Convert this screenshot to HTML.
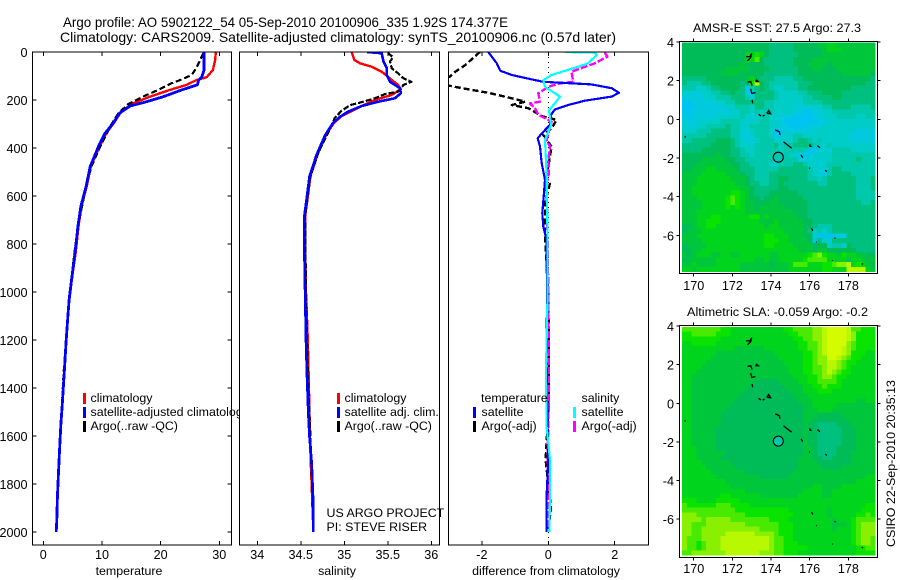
<!DOCTYPE html>
<html lang="en">
<head>
<meta charset="utf-8">
<title>Argo profile 5902122_54</title>
<style>
html,body{margin:0;padding:0;background:#fff;}
svg{display:block;}
text{font-family:"Liberation Sans",sans-serif;font-size:12.4px;fill:#000;}
.ttl{font-size:14px;}
</style>
</head>
<body>
<svg id="chart" xmlns="http://www.w3.org/2000/svg" width="900" height="580" viewBox="0 0 900 580">
  <rect x="0" y="0" width="900" height="580" fill="#fff"/>
  <text class="ttl" x="63" y="27" textLength="445" lengthAdjust="spacingAndGlyphs">Argo profile: AO 5902122_54 05-Sep-2010 20100906_335 1.92S 174.377E</text>
  <text class="ttl" x="60" y="42" textLength="556" lengthAdjust="spacingAndGlyphs">Climatology: CARS2009. Satellite-adjusted climatology: synTS_20100906.nc (0.57d later)</text>

  <g id="panelT"></g>
  <g>
    <rect x="83" y="393" width="3" height="11" fill="#f00"/>
    <rect x="83" y="407" width="3" height="11" fill="#00f"/>
    <rect x="83" y="421" width="3" height="11" fill="#000"/>
    <text x="90.5" y="402">climatology</text>
    <text x="90.5" y="416">satellite-adjusted climatology</text>
    <text x="90.5" y="430">Argo(..raw -QC)</text>
  </g>
  <text x="129" y="575" text-anchor="middle">temperature</text>

  <g id="panelS"></g>
  <g>
    <rect x="337" y="393" width="3" height="11" fill="#f00"/>
    <rect x="337" y="407" width="3" height="11" fill="#00f"/>
    <rect x="337" y="421" width="3" height="11" fill="#000"/>
    <text x="344.5" y="402">climatology</text>
    <text x="344.5" y="416">satellite adj. clim.</text>
    <text x="344.5" y="430">Argo(..raw -QC)</text>
  </g>
  <text x="326.5" y="517">US ARGO PROJECT</text>
  <text x="326.5" y="531">PI: STEVE RISER</text>
  <text x="337" y="575" text-anchor="middle">salinity</text>

  <g id="panelD"></g>
  <g>
    <text x="481" y="402">temperature</text>
    <text x="581.5" y="402">salinity</text>
    <rect x="473" y="407" width="3" height="11" fill="#00f"/>
    <rect x="473" y="421" width="3" height="11" fill="#000"/>
    <rect x="573" y="407" width="3" height="11" fill="#0ff"/>
    <rect x="573" y="421" width="3" height="11" fill="#f0f"/>
    <text x="481.5" y="416">satellite</text>
    <text x="481.5" y="430">Argo(-adj)</text>
    <text x="581.5" y="416">satellite</text>
    <text x="581.5" y="430">Argo(-adj)</text>
  </g>
  <text x="546" y="575" text-anchor="middle">difference from climatology</text>

  <text x="693" y="32" textLength="168" lengthAdjust="spacingAndGlyphs">AMSR-E SST: 27.5 Argo: 27.3</text>
  <g id="mapSST"></g>
  <text x="687" y="316" textLength="181" lengthAdjust="spacingAndGlyphs">Altimetric SLA: -0.059 Argo: -0.2</text>
  <g id="mapSLA"></g>
  <text transform="translate(895,547) rotate(-90)" textLength="167" lengthAdjust="spacingAndGlyphs">CSIRO 22-Sep-2010 20:35:13</text>
</svg>

<script>
// ---------- profile data ----------
const tempTicks = [0, 10, 20, 30];
const salTicks = [34, 34.5, 35, 35.5, 36];
const salTickLabels = ['34', '34.5', '35', '35.5', '36'];
const diffTicks = [-2, 0, 2];
const depthTicks = [0, 200, 400, 600, 800, 1000, 1200, 1400, 1600, 1800, 2000];

const tClimDepth = [0, 33, 75, 105, 117, 137, 158, 186, 214, 242, 255, 297, 339, 394, 477, 560, 644, 727, 838, 950, 1033, 1100, 1200, 1325, 1421, 1550, 1743, 1951, 2000];
const tClimValue = [29.4, 29.3, 28.9, 27.85, 26.1, 24.4, 21.6, 18.2, 15.3, 13.6, 13.1, 12.0, 10.7, 9.6, 8.1, 7.4, 6.5, 6.0, 5.5, 4.85, 4.45, 4.2, 3.9, 3.6, 3.35, 3.0, 2.6, 2.3, 2.2];

const tSatDepth = [0, 75, 105, 117, 137, 158, 186, 207, 225, 255, 297, 339, 394, 477, 560, 644, 727, 838, 950, 1033, 1100, 1200, 1325, 1421, 1479, 1550, 1646, 1743, 1854, 1951, 2000];
const tSatValue = [27.4, 27.4, 27.0, 26.5, 26.25, 23.6, 20.5, 17.6, 14.8, 13.0, 11.9, 10.5, 9.4, 8.0, 7.3, 6.4, 5.9, 5.4, 4.8, 4.4, 4.2, 3.9, 3.6, 3.35, 3.2, 3.0, 2.8, 2.6, 2.4, 2.3, 2.2];

const tArgoDepth = [5, 19, 40, 66, 96, 117, 130, 158, 186, 217, 255, 310, 394, 477, 560, 727, 838, 1033, 1325, 1550, 1743, 1990];
const tArgoValue = [27.3, 27.0, 26.6, 26.1, 25.3, 23.3, 21.9, 19.6, 17.0, 14.5, 12.8, 11.4, 9.7, 8.2, 7.3, 5.9, 5.3, 4.4, 3.5, 3.0, 2.55, 2.2];

const sClimDepth = [0, 33, 47, 61, 82, 103, 138, 155, 179, 200, 225, 267, 296, 346, 429, 519, 603, 686, 811, 1000, 1200, 1338, 1504, 1603, 1713, 1853, 2000];
const sClimValue = [35.085, 35.115, 35.18, 35.31, 35.43, 35.5, 35.62, 35.65, 35.545, 35.35, 35.2, 34.97, 34.88, 34.79, 34.69, 34.61, 34.58, 34.55, 34.55, 34.56, 34.58, 34.59, 34.6, 34.605, 34.615, 34.63, 34.645];

const sSatDepth = [0, 5, 40, 68, 96, 124, 151, 172, 193, 207, 225, 249, 270, 296, 346, 429, 519, 603, 686, 811, 1000, 1200, 1338, 1504, 1603, 1713, 1853, 2000];
const sSatValue = [35.26, 35.43, 35.45, 35.49, 35.49, 35.525, 35.64, 35.65, 35.58, 35.39, 35.2, 35.04, 34.95, 34.87, 34.78, 34.68, 34.6, 34.57, 34.54, 34.54, 34.55, 34.56, 34.57, 34.586, 34.6, 34.625, 34.64, 34.645];

const sArgoDepth = [3, 22, 40, 68, 89, 110, 124, 137, 165, 175, 193, 211, 221, 244, 276, 332, 421, 519, 686, 1000, 1338, 1603, 1853, 1990];
const sArgoValue = [35.5, 35.56, 35.525, 35.545, 35.62, 35.68, 35.77, 35.68, 35.62, 35.47, 35.35, 35.18, 35.07, 34.97, 34.89, 34.82, 34.7, 34.61, 34.55, 34.56, 34.58, 34.61, 34.635, 34.645];

const dTempSatDepth = [0, 47, 78, 96, 117, 124, 135, 151, 170, 186, 203, 221, 239, 262, 304, 339, 360, 394, 463, 533, 603, 671, 728, 783, 1000, 1300, 1500, 1700, 1850, 2000];
const dTempSatValue = [-1.81, -1.55, -1.45, -1.1, -0.4, -0.15, 1.3, 1.91, 2.13, 1.91, 1.1, 0.6, 0.2, 0.08, 0.05, -0.2, -0.32, -0.25, -0.2, -0.1, -0.14, -0.18, -0.15, -0.05, -0.04, -0.05, -0.03, 0.0, -0.05, -0.05];

const dTempArgoDepth = [0, 54, 82, 103, 115, 122, 140, 151, 170, 193, 207, 221, 234, 267, 283, 318, 346, 394, 478, 519, 547, 630, 770, 1000, 1300, 1500, 1700, 1900, 1990];
const dTempArgoValue = [-2.06, -2.5, -2.8, -2.97, -3.2, -3.2, -3.0, -2.6, -1.8, -1.1, -0.7, -1.1, -0.6, -0.2, 0.25, 0.1, -0.15, 0.1, 0.0, -0.1, 0.05, -0.1, -0.1, 0.0, 0.02, 0.0, -0.08, 0.08, 0.0];

const dSalSatDepth = [0, 3, 12, 47, 68, 96, 117, 145, 186, 214, 242, 304, 367, 505, 783, 1000, 1325, 1560, 1700, 1850, 2000];
const dSalSatValue = [0.5, 1.4, 1.46, 1.2, 0.75, 0.1, -0.15, -0.1, 0.35, 0.2, 0.02, 0.08, -0.1, -0.05, -0.02, -0.02, -0.07, -0.05, 0.05, 0.05, 0.03];

const dSalArgoDepth = [2, 19, 47, 82, 124, 131, 145, 172, 207, 214, 234, 262, 290, 367, 394, 450, 505, 547, 783, 1000, 1400, 1700, 1990];
const dSalArgoValue = [1.7, 1.78, 1.4, 0.7, 0.75, 0.35, 0.0, -0.3, -0.25, -0.55, -0.4, -0.3, 0.1, -0.05, 0.05, 0.0, 0.02, -0.05, -0.02, 0.0, 0.02, -0.02, 0.0];

// ---------- map data ----------
const mapLonTicks = [170, 172, 174, 176, 178];
const mapLatTicks = [4, 2, 0, -2, -4, -6];
const colorScale = {a:'#00c4f0',b:'#00cadc',c:'#00ccc8',d:'#00c8aa',e:'#00c080',f:'#00bc58',g:'#00c63c',h:'#00d41c',i:'#08e400',j:'#48ea00',k:'#88f000',l:'#b8f800',m:'#d4fb00'};

const sstRows = [
"ffffffffff ffffffffee eeefffffgg hhgggggggg",
"ffffffffff ffffffffee eeeffffffg hhhggggggg",
"ffffffffff fffhhihfee eeeefffffg gggggggggg",
"ffffffffff fffhhjfeee eeeffffggg gggggggggg",
"ffffffffff ffgffffeee eeefffgggg fggggggggg",
"fffffffffg ggggffffee eeeefffggf ffgggggggg",
"ffffffffgg ggfffffeee eeeeffffff fffggggggf",
"eeeeefffff fffghfeeed dddeefffff fffffffffe",
"edddeeffff ffefilfedd ddddeeefff ffffffffee",
"dddccdeeff ffeadefedc cdddeeffff fffffeeeee",
"ccbbccddee feeabeeeed ccccddeeef fffeeeeeee",
"bbbbbccddd eeedceeeed cccccddeee effeeeeeee",
"aabbbbbccd deeeeeeddc cccccdddde eeeeeeeeee",
"aaabbbbbbc cdddceeddc ccccbbcccd deeeedddde",
"aabbbbbbbb ccddcdcddc cccbbaabbc cddddddddd",
"babbbbbccc ccdcbcddcc bbbaaaabbc ccddddccdd",
"bbbcccccdd ddcbccddcc baaaaaaabb cccccccccc",
"cbbccdddde ddccddddcc bbaaaabbbc cccccccccc",
"cccdddeeee ddcbcdddca abbbbbbccc ccccccbbbb",
"dddddeeeee ddbbcdddca bccddccccc ccccbbbbbb",
"ddeeeeefff edcbbcdddc cccdeedcdc cccccbbbbb",
"eeeeeeffff edcccdddde cddeeeedcc dccccccccc",
"eeeeffffff eedccddddd cdddddaabc bddddccccc",
"fffffffgff eeddcddddd ddcbbaaccc cddddddddd",
"ffffgggggf feeddddddc ddddbbccbc cdddddeddd",
"fffggggggg ffeeddddcc dddeedccbc dddddddddd",
"ffggghhggg gfeeeddddd eeeeeedccb deeddddddd",
"gggghhhhhg ggfeedddee eeeeeedcbb deeeeddddd",
"ggghhhhhhh gggfedddee ffeeeeddcd eeeeeeddde",
"ggghhhhhhh hggfeeddee feeeeeeedd eeeeeeddde",
"gghhhhhhhh hhggfeeeee ffeeeeeeee eeeeeeddde",
"gghhhhhhhh iihgfeeeff ffffeeeeee eeeeeedddd",
"ggghhhhhhi jihgffeffg fffffeeeee eeeeeedddd",
"gggghhhhhi jihggfffgg ffffffeeee eeeeeeedde",
"gggghhhhhi hihggfgggg gfffffeeee eeeeeeeeee",
"ggghhhhhhh hhhggggggg gggfffeeee eeeeeeeeee",
"ggghhhiihh hhhhiighgg ggggffeeee eeeeeeeeee",
"ggghhiiihh hhhhhhgggh gggggffeee eeeeeeeeee",
"ffghhiihhh hhhhhhhghh gggggffedd deeeeeeeee",
"fggghhhhhh hhhhhhhhhh hggggfecdc deeeeeeeee",
"ggghhhhhhh hhhhhhhiih hhgggffcaa aabbeeeeee",
"gggghhhhhh hhhhhhhiii hhggggfaec beeeeeeeee",
"fgggghhhhh hhhhhhhiih hhhggggfff cddcfeeeee",
"ffgghhhhhh hhhhhhhhhh hhhhgggfgg ffffffeeee",
"gfghhhgghh gghhhhhhgg hhhhhhijki hhgihhggff",
"fgggggghhh hhhhhgghgg hhhhhijjjj hhhhfhhggg",
"gghgggghhh hhggggggfg gghjjjhhhi ijkklhihgf",
"hhghhhhhhh hhgggggggg gghhhhhhhi ihhhllllhg"
];

const slaRows = [
"jjjjjjjjii hhhhhhhhhh hiijjjjkkl mmmmljjiii",
"iijjjjjiii hhhhhhhhhh hhiijjjkkl mmmmlkiiii",
"iiiiiiiihh hhhhhhhhhh hhhiijjkkl mmmmlkiiii",
"hhiiiiihhh hhhhhhhhhh hhhhiijjkl mmmmkjiiii",
"hhhhhhhhhh hgggggghhh hhhhiijjkl mmmlkjiiii",
"hhhhhhhggg gggggggggh hhhhhiijkl mmmlkiiihh",
"hhhhhhgggg gggggggggg hhhhhiijkk mmlkjiihhh",
"hhhhhggggg gggggggggg ghhhhiijkk llkjiihhhh",
"hhhhgggggg gggggggggg gghhhiijjk llkjihhhhh",
"hhhggggggg gggggggggg gghhhiijjk lkjiihhhhh",
"hhgggggggg gggggggggg ggghhhiijk kjiihhhhhh",
"hhgggggggg gggggfffff gggghhiijj jjihhhhhhh",
"hhgggggggg ggggffffff fgggghhiij iiihhhhhhh",
"hhgggggggg gggfffffff ffggghhhii ihhhhhhhhh",
"hhgggggggg ggffffffff fffggghhhh hhhhhhhhhh",
"hhgggggggg gfffffffff ffffggghhh hhhhhhgghh",
"hhgggggggg ffffffffff fffffgghhh hhgggggggg",
"hhgggggggf ffffffffff fffffggghh hggggggggg",
"hhggggggff ffffffffff fffffgggff fffggggggg",
"hhggggggff ffffffffff fffffggfff ffffgggggg",
"hhggggggff ffffffffff fffffgffee eefffggggg",
"hhgggggfff ffffffffff fffffgffee eeefffgggg",
"hhgggggfff ffffffffff fffffgffee eeefffgggg",
"hhgggggfff ffffffffff fffffgffee eeefffgggg",
"hhgggggfff ffffffffff fffffgffee eeefffgggg",
"hhhggggfff ffffffffff fffffggfee eeffffgggg",
"hhhggggggf ffffffffff fffffggfee eefffggggg",
"hhhgggggff ffffffffff ffffgggffe effffggggg",
"hhhhgggggg ffffffffff ffffggggff fffffggggg",
"hhhhhggggg gfffffffff ffffgggggf fffggggggg",
"hhhhhhgggg gggfffffff fffggggggg gggggggggg",
"hhhhhhhggg ggggggffff ffgggggggg gggggggghh",
"hhhhhhhhhg gggggggggg gggggggggg gggggghhhh",
"hhhhhhhhhh gggggggggg ggggggghhg ggghhhhhhh",
"hhhhhhhhhh hhhggggggg ggggghhhhg ghhhhhhhhh",
"hhhhhhhhii hhhhhhgggg gggghhhhhg ghhhhhhhhh",
"iiihhhhiii iihhhhhhhh hhhhhhhhhh hhhhhhhhhh",
"jiiiiiijjj iiiihhhhhh hhhhhhhhhh hhhhhhhhii",
"jjjjjjjjjj jiiiiiiiii iihhhhhhhh ghhhhhhiii",
"kkkjjjjjjj jjjiiiiiii iiihhhhhhh ghhhhhiiji",
"kkkkjkkkkk jjjjjjjjii iihhhhhhhh hghhhijjjj",
"kkjjjkkkkk kkkjjjjjjj iiihhhhhhh hggghijkkk",
"kkjjkkkkkk kkkkkkjjjj iiihhhhhhh hghhhijkkk",
"kkjjkkkkkl lllllkkkkj iiihhhhhhh hhhhhijkkk",
"kjjjkkkkll llllllllkj jiihhhhhhh hhhhhijkkj",
"kjjijkkkll llllllllkj jiiihhhhhh hhhhhijkkj",
"kjjijkkkll llllllllkj jiiiiihhhh hhhhhhiijj",
"jjkkkkkkkl llllllkkkj jiiihhhhhh hhhhhhiiii"
];

const coastLon = [
  [172.71,172.91,173.0,172.95,172.78],
  [172.79,172.95,173.02],
  [172.95,173.0,173.19],
  [173.02,173.05],
  [173.19,173.26,173.34,173.19],
  [173.36,173.48],
  [173.57,173.67],
  [173.78,173.88,173.98,173.78],
  [174.21,174.43,174.47],
  [174.64,175.07],
  [175.55,175.64],
  [176.0,176.02,176.1],
  [176.4,176.53],
  [175.98,176.0],
  [176.81,176.88],
  [176.1,176.16],
  [177.28,177.34],
  [176.33,176.37],
  [177.17,177.2],
  [178.69,178.76],
  [169.52,169.6]
];
const coastLat = [
  [3.24,3.24,3.41,3.19,3.02],
  [1.91,1.95,1.74],
  [1.57,1.34,1.38],
  [1.0,0.83],
  [1.95,2.02,1.95,1.95],
  [0.26,0.17],
  [0.16,0.22],
  [0.31,0.45,0.29,0.31],
  [-0.55,-0.64,-0.81],
  [-1.16,-1.5],
  [-1.84,-1.98],
  [-1.29,-1.4,-1.4],
  [-1.36,-1.47],
  [-2.5,-2.55],
  [-2.62,-2.71],
  [-5.64,-5.76],
  [-6.12,-6.15],
  [-6.33,-6.35],
  [-7.28,-7.3],
  [-7.45,-7.5],
  [-0.91,-0.91]
];
const floatLon = 174.377;
const floatLat = -1.96;

// ---------- helpers ----------
const NS = 'http://www.w3.org/2000/svg';
function make(parent, tag, attrs) {
  const el = document.createElementNS(NS, tag);
  for (const k in attrs) el.setAttribute(k, attrs[k]);
  parent.appendChild(el);
  return el;
}
function tickLine(parent, x1, y1, x2, y2, name) {
  const el = make(parent, 'line', {x1: x1, y1: y1, x2: x2, y2: y2, stroke: '#000', 'stroke-width': 1, 'shape-rendering': 'crispEdges'});
  
  
  return el;
}
function label(parent, x, y, anchor, str, name) {
  const el = make(parent, 'text', {x: x, y: y, 'text-anchor': anchor, style: 'font-size:12.6px'});
  el.textContent = str;
  
  
  return el;
}
const yDepth = d => 52 + d * 0.24;
const boxTop = 52, boxBottom = 545;

function profilePanel(group, id, left, right, xScale, ticks, tickLabels, showDepth) {
  const bg = make(group, 'rect', {x: left, y: boxTop, width: right - left, height: boxBottom - boxTop, fill: '#fff'});
  
  
  const clip = make(group, 'clipPath', {id: 'clip-' + id});
  make(clip, 'rect', {x: left, y: boxTop, width: right - left, height: boxBottom - boxTop});
  const lines = make(group, 'g', {'clip-path': 'url(#clip-' + id + ')'});
  
  
  const axes = make(group, 'g', {});
  
  
  const box = make(axes, 'rect', {x: left, y: boxTop, width: right - left, height: boxBottom - boxTop, fill: 'none', stroke: '#000', 'stroke-width': 1, 'shape-rendering': 'crispEdges'});
  
  
  ticks.forEach((t, i) => {
    const x = xScale(t);
    tickLine(axes, x, boxTop, x, boxTop + 4, id + '-top-tick');
    tickLine(axes, x, boxBottom, x, boxBottom - 4, id + '-bottom-tick');
    label(axes, x, 559, 'middle', tickLabels[i], id + '-x-tick-label');
  });
  if (showDepth) {
    depthTicks.forEach(d => {
      tickLine(axes, left, yDepth(d), left + 4, yDepth(d), 'depth-left-tick');
      tickLine(axes, right, yDepth(d), right - 4, yDepth(d), 'depth-right-tick');
      label(axes, 27.5, yDepth(d) + 5, 'end', String(d), 'depth-tick-label');
    });
  }
  return lines;
}
function profile(parent, depths, values, xScale, color, width, name, dash) {
  const pts = depths.map((d, i) => xScale(values[i]).toFixed(1) + ',' + yDepth(d).toFixed(1)).join(' ');
  const el = make(parent, 'polyline', {points: pts, fill: 'none', stroke: color, 'stroke-width': width, 'stroke-linejoin': 'round', 'shape-rendering': 'crispEdges'});
  if (dash) el.setAttribute('stroke-dasharray', dash);
  
  
  return el;
}

// ---------- profile panels ----------
const xTemp = v => 43.3 + v * 5.867;
const xSal = v => 344.3 + (v - 35) * 87;
const xDiff = v => 548.3 + v * 33.2;

const tLines = profilePanel(document.getElementById('panelT'), 'temperature', 32.5, 231.5, xTemp, tempTicks, tempTicks.map(String), true);
profile(tLines, tClimDepth, tClimValue, xTemp, '#f00', 2.4, 'temperature-climatology-line');
profile(tLines, tArgoDepth, tArgoValue, xTemp, '#000', 2.2, 'temperature-argo-line', '6 3');
profile(tLines, tSatDepth, tSatValue, xTemp, '#00f', 2.8, 'temperature-satellite-line');

const sLines = profilePanel(document.getElementById('panelS'), 'salinity', 239.5, 439.5, xSal, salTicks, salTickLabels, false);
profile(sLines, sClimDepth, sClimValue, xSal, '#f00', 2.4, 'salinity-climatology-line');
profile(sLines, sArgoDepth, sArgoValue, xSal, '#000', 2.2, 'salinity-argo-line', '6 2');
profile(sLines, sSatDepth, sSatValue, xSal, '#00f', 2.6, 'salinity-satellite-line');

const dLines = profilePanel(document.getElementById('panelD'), 'difference', 448.5, 648.5, xDiff, diffTicks, diffTicks.map(String), false);
const zero = make(dLines, 'line', {x1: xDiff(0), y1: boxTop, x2: xDiff(0), y2: boxBottom, stroke: '#000', 'stroke-width': 1, 'stroke-dasharray': '1 4', 'shape-rendering': 'crispEdges'});


profile(dLines, dTempArgoDepth, dTempArgoValue, xDiff, '#000', 2.4, 'temp-argo-difference-line', '6 3');
profile(dLines, dSalArgoDepth, dSalArgoValue, xDiff, '#f0f', 2.4, 'salinity-argo-difference-line', '7 2');
profile(dLines, dTempSatDepth, dTempSatValue, xDiff, '#00f', 2.2, 'temp-satellite-difference-line');
profile(dLines, dSalSatDepth, dSalSatValue, xDiff, '#0ff', 2.2, 'salinity-satellite-difference-line');

// ---------- maps ----------
const xLon = lon => 693.7 + (lon - 170) * 19.33;
const cellLonStart = 169.395, cellLonStep = 0.25, cellLatStart = 3.96, cellLatStep = 0.2465;

function drawMap(group, id, rows, yLat, frameTop, frameBottom, floatColor, xLabelY) {
  const left = 679.5, right = 877.5;
  const frame = make(group, 'rect', {x: left, y: frameTop, width: right - left, height: frameBottom - frameTop, fill: '#fff', stroke: '#000', 'stroke-width': 1, 'shape-rendering': 'crispEdges'});
  
  
  const cells = make(group, 'g', {'shape-rendering': 'crispEdges'});
  
  
  rows.forEach((row, r) => {
    const vals = row.replace(/ /g, '');
    for (let c = 0; c < vals.length; c++) {
      const x0 = xLon(cellLonStart + c * cellLonStep);
      const x1 = xLon(cellLonStart + (c + 1) * cellLonStep);
      const y0 = yLat(cellLatStart - r * cellLatStep);
      const y1 = yLat(cellLatStart - (r + 1) * cellLatStep);
      const cell = make(cells, 'rect', {x: x0.toFixed(2), y: y0.toFixed(2), width: (x1 - x0 + 0.3).toFixed(2), height: (y1 - y0 + 0.3).toFixed(2), fill: colorScale[vals[c]]});
      
      
    }
  });
  const coast = make(group, 'g', {});
  
  
  coastLon.forEach((lons, i) => {
    const pts = lons.map((lon, j) => xLon(lon).toFixed(1) + ',' + yLat(coastLat[i][j]).toFixed(1)).join(' ');
    const isle = make(coast, 'polyline', {points: pts, fill: 'none', stroke: '#000', 'stroke-width': 1.3});
    
    
  });
  const dot = make(group, 'circle', {cx: xLon(floatLon), cy: yLat(floatLat), r: 5, fill: floatColor, stroke: '#000', 'stroke-width': 1.1});
  
  
  mapLonTicks.forEach(lon => {
    tickLine(group, xLon(lon), frameTop, xLon(lon), frameTop - 3, id + '-top-tick');
    tickLine(group, xLon(lon), frameBottom, xLon(lon), frameBottom + 3, id + '-bottom-tick');
    label(group, xLon(lon), xLabelY, 'middle', String(lon), id + '-lon-label');
  });
  mapLatTicks.forEach(lat => {
    tickLine(group, left, yLat(lat), left - 3, yLat(lat), id + '-left-tick');
    tickLine(group, right, yLat(lat), right + 3, yLat(lat), id + '-right-tick');
    label(group, 674, yLat(lat) + 5, 'end', String(lat), id + '-lat-label');
  });
}
drawMap(document.getElementById('mapSST'), 'sst-map', sstRows, lat => 119.3 - lat * 19.35, 41.5, 273.5, '#00c8b0', 290);
drawMap(document.getElementById('mapSLA'), 'sla-map', slaRows, lat => 403.3 - lat * 19.3, 325.5, 557.5, '#00c8a8', 573);
</script>
</body>
</html>
